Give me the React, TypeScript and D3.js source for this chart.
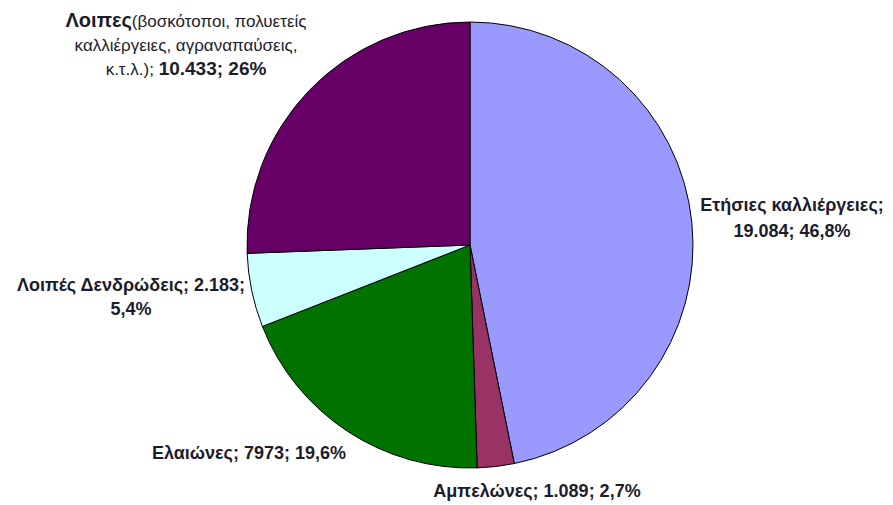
import * as d3 from "d3";
import { useEffect, useRef } from "react";

const width = 893;
const height = 505;

const categories = [
	"Ετήσιες καλλιέργειες",
	"Αμπελώνες",
	"Ελαιώνες",
	"Λοιπές Δενδρώδεις",
	"Λοιπες"
];
const values = [19084, 1089, 7973, 2183, 10433];
const valueLabels = ["19.084", "1.089", "7973", "2.183", "10.433"];
const percentLabels = ["46,8%", "2,7%", "19,6%", "5,4%", "26%"];
const colors = ["#9999ff", "#993366", "#007200", "#ccffff", "#660066"];

const center = { x: 470, y: 245 };
const radius = 223;
const font = "'Liberation Sans', Arial, sans-serif";
const textColor = "#1c1c2c";

// label anchor (centre x, first baseline) for each slice
const labelPos = [
	{ x: 792, y: 211 },
	{ x: 537, y: 497 },
	{ x: 249, y: 459 },
	{ x: 131, y: 291 },
	{ x: 186, y: 27 }
];

const App = () => {
	const ref = useRef(null);

	useEffect(() => {
		const svg = d3.select(ref.current);
		svg.selectAll("*").remove();

		const pie = d3.pie<number>().sort(null).value(d => d);
		const arc = d3.arc<d3.PieArcDatum<number>>().innerRadius(0).outerRadius(radius);

		const g = svg.append("g").attr("transform", `translate(${center.x}, ${center.y})`);
		g.selectAll("path")
			.data(pie(values))
			.enter()
			.append("path")
			.attr("d", arc)
			.attr("fill", (d, i) => colors[i])
			.attr("stroke", "#000")
			.attr("stroke-width", 1);

		const labels = svg.append("g")
			.attr("font-family", font)
			.attr("fill", textColor)
			.attr("text-anchor", "middle");

		// two-line labels
		[0, 3].forEach(i => {
			const p = labelPos[i];
			const t = labels.append("text").attr("font-weight", "bold").attr("font-size", 18);
			t.append("tspan").attr("x", p.x).attr("y", p.y)
				.text(i === 0 ? `${categories[i]};` : `${categories[i]}; ${valueLabels[i]};`);
			t.append("tspan").attr("x", p.x).attr("y", p.y + (i === 0 ? 26 : 24))
				.text(i === 0 ? `${valueLabels[i]}; ${percentLabels[i]}` : percentLabels[i]);
		});

		[1, 2].forEach(i => {
			const p = labelPos[i];
			labels.append("text")
				.attr("x", p.x)
				.attr("y", p.y)
				.attr("font-weight", "bold")
				.attr("font-size", 18)
				.text(`${categories[i]}; ${valueLabels[i]}; ${percentLabels[i]}`);
		});

		// three-line label for the last slice
		const p = labelPos[4];
		const t1 = labels.append("text").attr("x", p.x).attr("y", p.y);
		t1.append("tspan").attr("font-weight", "bold").attr("font-size", 20).text(categories[4]);
		t1.append("tspan").attr("font-size", 17).text("(βοσκότοποι, πολυετείς");
		labels.append("text").attr("x", p.x).attr("y", p.y + 24).attr("font-size", 17)
			.text("καλλιέργειες, αγραναπαύσεις,");
		const t3 = labels.append("text").attr("x", p.x).attr("y", p.y + 48);
		t3.append("tspan").attr("font-size", 17).text("κ.τ.λ.); ");
		t3.append("tspan").attr("font-weight", "bold").attr("font-size", 19)
			.text(`${valueLabels[4]}; ${percentLabels[4]}`);
	}, []);

	return (
		<svg
			ref={ref}
			width={width}
			height={height}
			style={{ position: "absolute", left: 0, top: 0, background: "#fff" }}
		></svg>
	);
};

export default App;
